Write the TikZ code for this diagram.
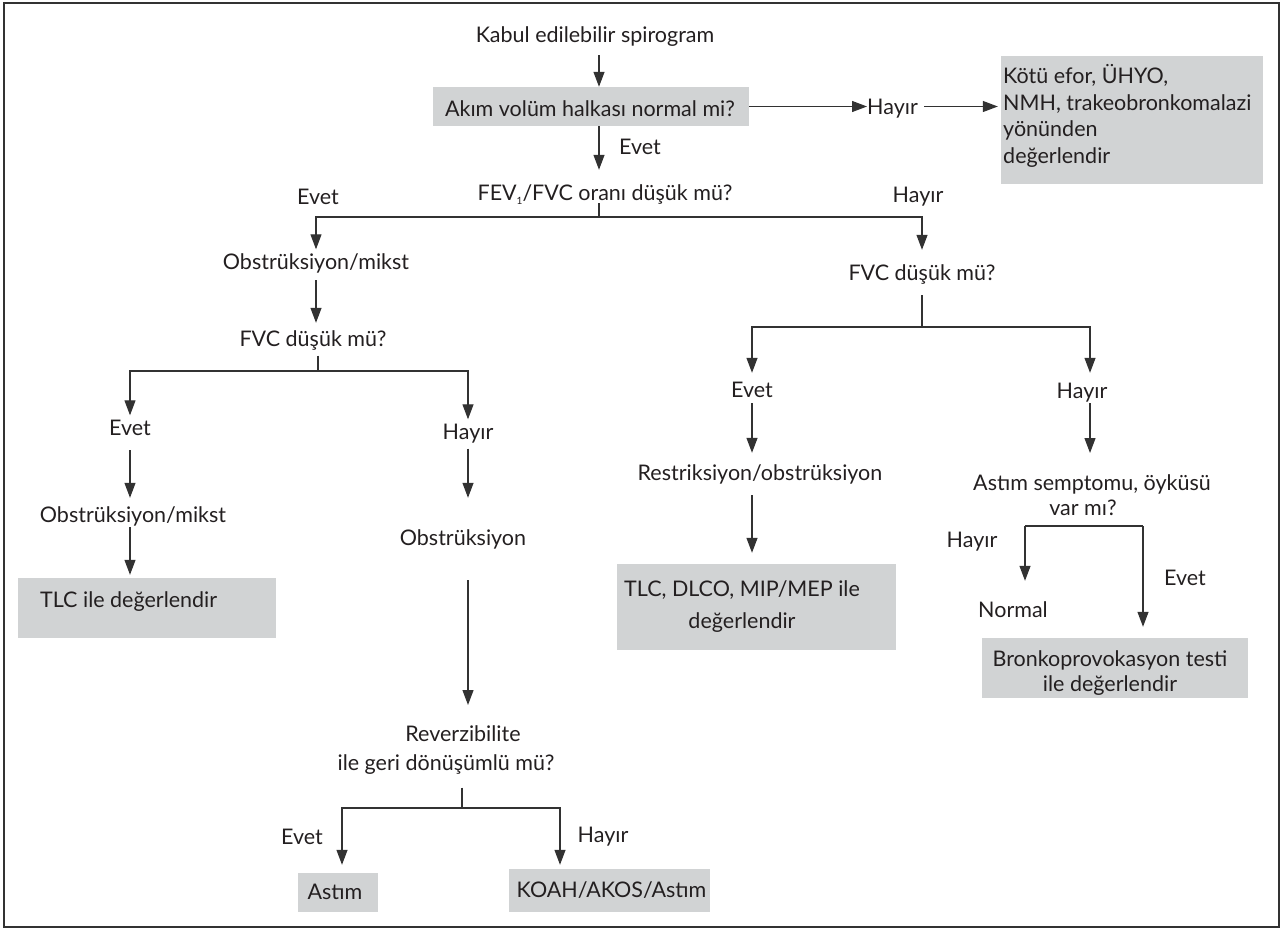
\documentclass[tikz,border=0pt]{standalone}
\usepackage{fontspec}
\setmainfont{Lato}
\usetikzlibrary{arrows.meta}
\definecolor{boxgray}{RGB}{209,211,212}
\definecolor{linec}{RGB}{50,50,50}
\definecolor{txtc}{RGB}{35,31,32}
\newcommand{\subone}{\raisebox{-4pt}{\fontsize{10}{10}\selectfont 1}}
\begin{document}
\begin{tikzpicture}[x=1pt,y=-1pt,
  t/.style={font=\fontsize{21.5}{27}\selectfont, text=txtc, inner xsep=0pt, inner ysep=4pt, text height=16pt, text depth=5pt},
  ml/.style={font=\fontsize{21.5}{#1}\selectfont, text=txtc, inner sep=0pt, align=center, anchor=north},
  gbox/.style={fill=boxgray, draw=none, inner sep=0pt},
  arr/.style={draw=linec, line width=1.2pt, -{Triangle[length=15pt,width=11pt]}},
  ln/.style={draw=linec, line width=1.2pt}]
\useasboundingbox (0,0) rectangle (1281,928);
\draw[ln, line width=1.4pt] (4,3) rectangle (1279,927);

% gray boxes
\node[gbox, minimum width=316pt, minimum height=39pt] (akim) at (591,106.5) {};
\node[gbox, minimum width=262pt, minimum height=128pt] (kotu) at (1132,120) {};
\node[gbox, minimum width=258pt, minimum height=60pt] (tlc) at (147,608) {};
\node[gbox, minimum width=279pt, minimum height=86pt] (dlco) at (756.5,607) {};
\node[gbox, minimum width=266pt, minimum height=60pt] (bronko) at (1115,668) {};
\node[gbox, minimum width=80pt, minimum height=39pt] (astim) at (338,892.5) {};
\node[gbox, minimum width=201pt, minimum height=43pt] (koah) at (609.5,890.5) {};

% texts
\node[t] (kabul) at (595,37) {Kabul edilebilir spirogram};
\node[t] (akimt) at (590,111) {Akım volüm halkası normal mi?};
\node[t] (hayir1) at (892.5,109) {Hayır};
\node[ml=26.7, align=left, anchor=north west] (kotut) at (1003,64) {Kötü efor, ÜHYO,\\NMH, trakeobronkomalazi\\yönünden\\değerlendir};
\node[t] (e1) at (640,149) {Evet};
\node[t] (fev) at (605,195) {FEV\subone/FVC oranı düşük mü?};
\node[t] (e2) at (318,199) {Evet};
\node[t] (h2) at (918,197) {Hayır};
\node[t] (obs1) at (316,264) {Obstrüksiyon/mikst};
\node[t] (fvc1) at (313,341) {FVC düşük mü?};
\node[t] (e3) at (130,430) {Evet};
\node[t] (h3) at (468,434) {Hayır};
\node[t] (obs2) at (133,517) {Obstrüksiyon/mikst};
\node[t, anchor=west] (tlct) at (40,602) {TLC ile değerlendir};
\node[t] (obs3) at (463,540) {Obstrüksiyon};
\node[ml=29] (rev) at (446,725) {\hspace*{34pt}Reverzibilite\\ile geri dönüşümlü mü?};
\node[t] (e4) at (302,839) {Evet};
\node[t] (h4) at (603,837) {Hayır};
\node[t] (astimt) at (335,894) {Astım};
\node[t] (koaht) at (611.5,892) {KOAH/AKOS/Astım};
\node[t] (fvc2) at (922,275) {FVC düşük mü?};
\node[t] (e5) at (752,392) {Evet};
\node[t] (h5) at (1082,393) {Hayır};
\node[t] (restr) at (760,475) {Restriksiyon/obstrüksiyon};
\node[ml=32] (dlcot) at (742,580) {TLC, DLCO, MIP/MEP ile\\değerlendir};
\node[ml=25] (astsym) at (1083,474) {\hspace*{18pt}Astım semptomu, öyküsü\\var mı?};
\node[t] (h7) at (972,542) {Hayır};
\node[t] (e7) at (1185,580) {Evet};
\node[t] (normal) at (1013,612) {Normal};
\node[ml=25] (bronkot) at (1110,650) {Bronkoprovokasyon testi\\ile değerlendir};

% junctions
\coordinate (j1) at (599,217);
\coordinate (j2) at (318,371);
\coordinate (j4) at (462,808);
\coordinate (j5) at (922,327);
\coordinate (j6) at (1025,526);
\coordinate (j7) at (1143,526);

% connectors
\draw[arr, shorten <=3.5pt] (kabul.south -| j1) -- (akim.north -| j1);
\draw[arr] (akim.east) -- (akim.east -| hayir1.west);
\draw[arr, shorten <=6pt, shorten >=3pt] (hayir1.east |- akim.east) -- (akim.east -| kotu.west);
\draw[arr, shorten >=10.5pt] (akim.south -| j1) -- (fev.north -| j1);
\draw[ln, shorten <=-6.5pt] (fev.south -| j1) -- (j1);
\draw[arr] (j1) -| (obs1.north);
\draw[arr, shorten >=10.5pt] (j1) -| (fvc2.north);
\draw[arr, shorten <=1.5pt, shorten >=3.5pt] (obs1.south) -- (obs1.south |- fvc1.north);
\draw[ln] (fvc1.south -| j2) -- (j2);
\draw[arr] (j2) -| (e3.north);
\draw[arr] (j2) -| (h3.north);
\draw[arr, shorten <=5.5pt, shorten >=4.5pt] (e3.south) -- (e3.south |- obs2.north);
\draw[arr, shorten <=-4.5pt, shorten >=3pt] (e3.south |- obs2.south) -- (e3.south |- tlc.north);
\draw[arr, shorten >=27.5pt] (h3.south) -- (h3.south |- obs3.north);
\draw[arr, shorten <=25.5pt, shorten >=20pt] (h3.south |- obs3.south) -- (h3.south |- rev.north);
\draw[ln, shorten <=13.4pt] (rev.south -| j4) -- (j4);
\draw[arr, shorten >=8pt] (j4) -| ([xshift=4pt]astim.north);
\draw[arr, shorten >=4pt] (j4) -| ([xshift=-49.5pt]koah.north);
\draw[ln, shorten <=5.5pt] (fvc2.south) -- (j5);
\draw[arr, shorten >=4.5pt] (j5) -| (e5.north);
\draw[arr, shorten >=5.5pt] (j5) -| ([xshift=8pt]h5.north);
\draw[arr, shorten <=-3.5pt, shorten >=7.5pt] (e5.south) -- (e5.south |- restr.north);
\draw[arr, shorten <=5.5pt, shorten >=11pt] (e5.south |- restr.south) -- (e5.south |- dlco.north);
\draw[arr, shorten <=-4.5pt, shorten >=21pt] ([xshift=8pt]h5.south) -- ([xshift=8pt]h5.south |- astsym.north);
\draw[ln] (j6) -- (j7);
\draw[arr, shorten >=16.5pt] (j6) -- (j6 |- normal.north);
\draw[arr, shorten >=11pt] (j7) -- (j7 |- bronko.north);
\end{tikzpicture}
\end{document}
